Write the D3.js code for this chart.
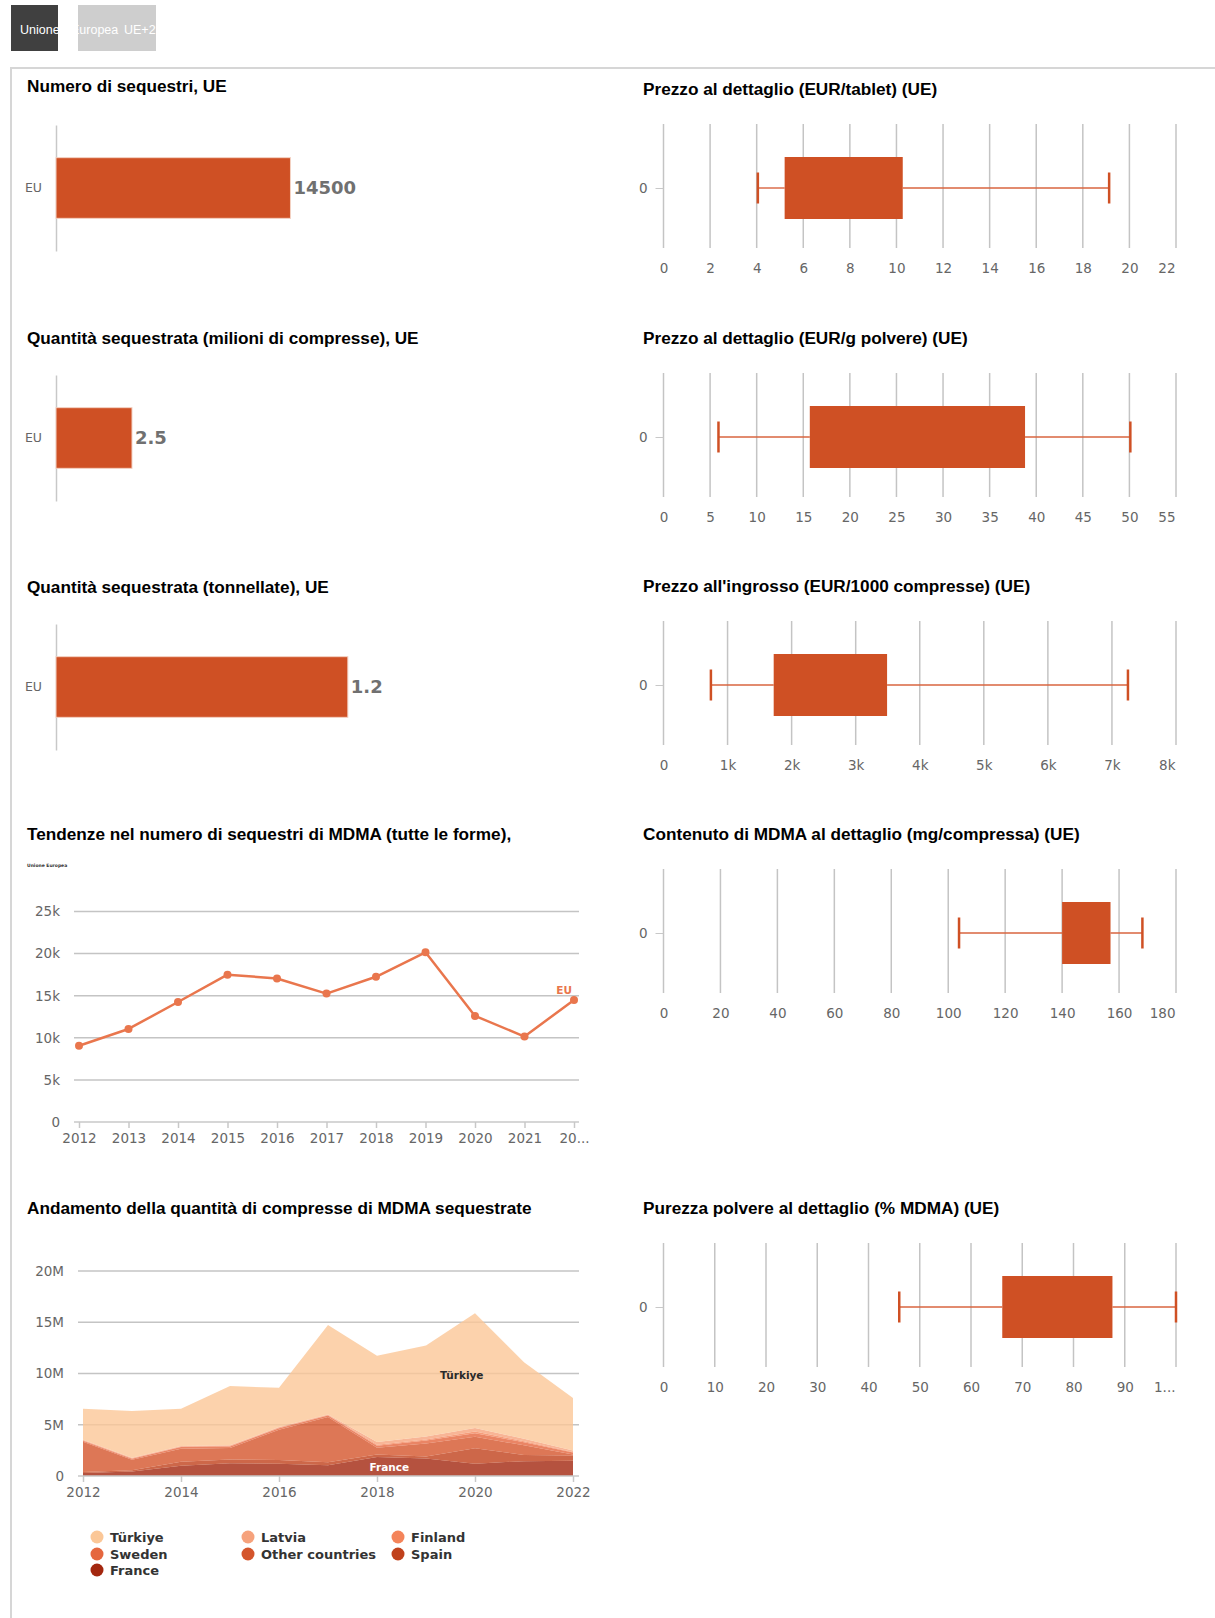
<!DOCTYPE html>
<html>
<head>
<meta charset="utf-8">
<script src="https://cdn.jsdelivr.net/npm/d3@7"></script>
<style>
  body { margin: 0; background: #fff; }
  svg text { font-family: "DejaVu Sans", Verdana, sans-serif; }
  svg text.title { font-family: "Liberation Sans", Arial, sans-serif; font-weight: bold; font-size: 17.2px; fill: #000; }
  svg text.btn { font-family: "Liberation Sans", Arial, sans-serif; font-size: 12.5px; fill: #fff; }
</style>
</head>
<body>
<svg id="page" width="1215" height="1618"></svg>
<script>
// ---------- data ----------
const seizureLabels = ["EU"];
const seizureCount = [14500];
const seizedTabletsMillions = [2.5];
const seizedTonnes = [1.2];

// box plots: [low whisker, first quartile, third quartile, high whisker]
const boxCategories = ["0"];
const retailTabletPrice = [4.05, 5.2, 10.27, 19.13];
const retailPowderPrice = [5.9, 15.7, 38.8, 50.1];
const wholesalePrice = [740, 1720, 3490, 7250];
const retailTabletContent = [103.8, 140, 157, 168.2];
const retailPowderPurity = [46, 66.1, 87.6, 100];

const tabletPriceTicks = [0, 2, 4, 6, 8, 10, 12, 14, 16, 18, 20, 22];
const powderPriceTicks = [0, 5, 10, 15, 20, 25, 30, 35, 40, 45, 50, 55];
const wholesaleTicks = [0, 1000, 2000, 3000, 4000, 5000, 6000, 7000, 8000];
const wholesaleTickLabels = ["0", "1k", "2k", "3k", "4k", "5k", "6k", "7k", "8k"];
const contentTicks = [0, 20, 40, 60, 80, 100, 120, 140, 160, 180];
const purityTicks = [0, 10, 20, 30, 40, 50, 60, 70, 80, 90, 100];
const purityTickLabels = ["0", "10", "20", "30", "40", "50", "60", "70", "80", "90", "1..."];

// trend in number of seizures
const trendYears = [2012, 2013, 2014, 2015, 2016, 2017, 2018, 2019, 2020, 2021, 2022];
const trendYearLabels = ["2012", "2013", "2014", "2015", "2016", "2017", "2018", "2019", "2020", "2021", "20..."];
const trendSeizures = [9050, 11050, 14250, 17500, 17050, 15250, 17250, 20150, 12600, 10150, 14500];
const trendTicks = [0, 5000, 10000, 15000, 20000, 25000];
const trendTickLabels = ["0", "5k", "10k", "15k", "20k", "25k"];

// tablets seized by country (millions)
const tabletYears = [2012, 2013, 2014, 2015, 2016, 2017, 2018, 2019, 2020, 2021, 2022];
const turkiye = [3.02, 4.54, 3.64, 5.78, 3.83, 8.72, 8.41, 8.87, 11.2, 7.46, 5.1];
const latvia = [0.05, 0.05, 0.05, 0.05, 0.05, 0.05, 0.25, 0.3, 0.35, 0.25, 0.15];
const finland = [0.05, 0.05, 0.05, 0.05, 0.05, 0.05, 0.1, 0.1, 0.15, 0.1, 0.05];
const sweden = [0.1, 0.1, 0.15, 0.15, 0.15, 0.15, 0.2, 0.3, 0.35, 0.3, 0.2];
const otherCountries = [2.94, 1.04, 1.27, 1.14, 2.97, 4.4, 0.66, 1.26, 1.13, 0.94, 0.1];
const spain = [0.1, 0.1, 0.4, 0.35, 0.35, 0.3, 0.25, 0.2, 1.5, 0.6, 0.5];
const france = [0.3, 0.45, 1.0, 1.25, 1.2, 1.05, 1.85, 1.7, 1.2, 1.45, 1.5];
const tabletTicks = [0, 5, 10, 15, 20];
const tabletTickLabels = ["0", "5M", "10M", "15M", "20M"];
const tabletLabelYears = [2012, 2014, 2016, 2018, 2020, 2022];
const legendOrder = ["Türkiye", "Latvia", "Finland", "Sweden", "Other countries", "Spain", "France"];

// ---------- styling ----------
const ORANGE = "#cf5024";
const LINE = "#e9764d";
const GRID = "#c4c4c4";
const LABEL = "#666";
const countryColors = {
  "Türkiye": "#fbc797",
  "Latvia": "#f6a27c",
  "Finland": "#f4845a",
  "Sweden": "#e5673f",
  "Other countries": "#d4552c",
  "Spain": "#c0411c",
  "France": "#a3270f"
};

const page = d3.select("#page");

// ---------- frame & selector buttons ----------
page.append("rect").attr("x", 11).attr("y", 5).attr("width", 47).attr("height", 46).attr("fill", "#404040");
page.append("rect").attr("x", 78).attr("y", 5).attr("width", 78).attr("height", 46).attr("fill", "#cecece");
const btnText = page.append("text").attr("class", "btn").attr("y", 33.5);
btnText.append("tspan").attr("x", 20).text("Unione");
btnText.append("tspan").attr("x", 71).text("Europea");
page.append("text").attr("class", "btn").attr("x", 124).attr("y", 33.5).text("UE+2");

page.append("line").attr("x1", 11).attr("x2", 1215).attr("y1", 68).attr("y2", 68)
  .attr("stroke", "#d6d6d6").attr("stroke-width", 2);
page.append("line").attr("x1", 11).attr("x2", 11).attr("y1", 67).attr("y2", 1618)
  .attr("stroke", "#d6d6d6").attr("stroke-width", 2);

function title(x, y, text) {
  page.append("text").attr("class", "title").attr("x", x).attr("y", y + 6).text(text);
}

// ---------- single-bar panels ----------
function drawBar(T, values, max) {
  const g = page.append("g");
  const x = d3.scaleLinear().domain([0, max]).range([56, 360]);
  const y = d3.scaleBand().domain(seizureLabels).range([T + 37, T + 163]).padding(0.35);

  g.append("g").attr("transform", "translate(56,0)")
    .call(d3.axisLeft(y).tickSize(0).tickSizeOuter(0).tickPadding(14))
    .attr("font-size", 12.5)
    .call(a => {
      a.select(".domain").attr("stroke", "#c8c8c8").attr("stroke-width", 1.5);
      a.selectAll("text").attr("fill", LABEL);
    });

  g.selectAll("rect.bar").data(values).join("rect")
    .attr("class", "bar")
    .attr("x", x(0))
    .attr("y", (d, i) => y(seizureLabels[i]))
    .attr("width", d => x(d) - x(0))
    .attr("height", y.bandwidth())
    .attr("fill", ORANGE)
    .attr("stroke", "#f3d2c4").attr("stroke-width", 1);

  g.selectAll("text.val").data(values).join("text")
    .attr("class", "val")
    .attr("x", d => x(d) + 3)
    .attr("y", (d, i) => y(seizureLabels[i]) + y.bandwidth() / 2)
    .attr("dy", "0.36em")
    .attr("font-size", 18).attr("font-weight", "bold")
    .attr("fill", "#707070")
    .attr("stroke", "#fff").attr("stroke-width", 2).attr("paint-order", "stroke")
    .text(d => d);
}

// ---------- box plot panels ----------
function drawBox(T, stats, ticks, labels) {
  const g = page.append("g");
  const x = d3.scaleLinear().domain([0, ticks[ticks.length - 1]]).range([663.5, 1176]);
  const y = d3.scalePoint().domain(boxCategories).range([T + 35, T + 163]).padding(0.5);

  g.append("g").selectAll("line").data(ticks).join("line")
    .attr("x1", d => x(d)).attr("x2", d => x(d))
    .attr("y1", T + 35).attr("y2", T + 159)
    .attr("stroke", GRID).attr("stroke-width", 1.5);

  g.append("g").attr("transform", `translate(0,${T + 159})`)
    .call(d3.axisBottom(x).tickValues(ticks).tickFormat((d, i) => labels ? labels[i] : d).tickSize(0).tickPadding(15))
    .attr("font-size", 13.5)
    .call(a => {
      a.select(".domain").remove();
      a.selectAll("text").attr("fill", LABEL);
      a.selectAll(".tick:last-of-type text").attr("text-anchor", "end").attr("x", -1);
    });

  g.append("g").attr("transform", "translate(663.5,0)")
    .call(d3.axisLeft(y).tickSize(8).tickPadding(8))
    .attr("font-size", 13.5)
    .call(a => {
      a.select(".domain").remove();
      a.selectAll("line").attr("stroke", "#c8c8c8");
      a.selectAll("text").attr("fill", LABEL);
    });

  const cy = y(boxCategories[0]);
  const [lo, q1, q3, hi] = stats;
  g.append("line").attr("x1", x(lo)).attr("x2", x(q1)).attr("y1", cy).attr("y2", cy)
    .attr("stroke", "#d8643f").attr("stroke-width", 1.4);
  g.append("line").attr("x1", x(q3)).attr("x2", x(hi)).attr("y1", cy).attr("y2", cy)
    .attr("stroke", "#d8643f").attr("stroke-width", 1.4);
  g.selectAll("line.cap").data([lo, hi]).join("line")
    .attr("class", "cap")
    .attr("x1", d => x(d)).attr("x2", d => x(d))
    .attr("y1", cy - 15.5).attr("y2", cy + 15.5)
    .attr("stroke", ORANGE).attr("stroke-width", 2.5);
  g.append("rect")
    .attr("x", x(q1)).attr("y", cy - 31)
    .attr("width", x(q3) - x(q1)).attr("height", 62)
    .attr("fill", ORANGE);
}

// ---------- line chart: trend in seizures ----------
function drawTrend(T) {
  const g = page.append("g");
  page.append("text").attr("x", 27).attr("y", T + 33).attr("font-size", 4.5)
    .attr("font-weight", "bold").attr("fill", "#333").text("Unione Europea");

  const x = d3.scalePoint().domain(trendYears).range([79, 574]);
  const y = d3.scaleLinear().domain([0, 25000]).range([1122, 911.5]);

  g.append("g").selectAll("line").data(trendTicks.slice(1)).join("line")
    .attr("x1", 74).attr("x2", 579)
    .attr("y1", d => y(d)).attr("y2", d => y(d))
    .attr("stroke", GRID).attr("stroke-width", 1.5);
  g.append("line").attr("x1", 74).attr("x2", 579).attr("y1", y(0)).attr("y2", y(0))
    .attr("stroke", "#c8c8c8").attr("stroke-width", 1.5);

  g.append("g").attr("transform", "translate(60,0)")
    .call(d3.axisLeft(y).tickValues(trendTicks).tickFormat((d, i) => trendTickLabels[i]).tickSize(0).tickPadding(0))
    .attr("font-size", 13.5)
    .call(a => { a.select(".domain").remove(); a.selectAll("text").attr("fill", LABEL); });

  g.append("g").attr("transform", `translate(0,${y(0)})`)
    .call(d3.axisBottom(x).tickFormat((d, i) => trendYearLabels[i]).tickSize(6).tickPadding(5))
    .attr("font-size", 13.5)
    .call(a => {
      a.select(".domain").remove();
      a.selectAll("line").attr("stroke", "#c8c8c8").attr("stroke-width", 1.5);
      a.selectAll("text").attr("fill", LABEL);
    });

  const line = d3.line().x((d, i) => x(trendYears[i])).y(d => y(d));
  g.append("path").datum(trendSeizures).attr("d", line)
    .attr("fill", "none").attr("stroke", LINE).attr("stroke-width", 2.5).attr("stroke-linejoin", "round");
  g.selectAll("circle").data(trendSeizures).join("circle")
    .attr("cx", (d, i) => x(trendYears[i])).attr("cy", d => y(d)).attr("r", 4)
    .attr("fill", LINE);

  const last = trendSeizures.length - 1;
  g.append("text").attr("x", x(trendYears[last]) - 2).attr("y", y(trendSeizures[last]) - 6)
    .attr("text-anchor", "end").attr("font-size", 10.5).attr("font-weight", "bold")
    .attr("fill", LINE).text("EU");
}

// ---------- stacked area chart: tablets seized ----------
function drawTablets() {
  const g = page.append("g");
  const x = d3.scaleLinear().domain([2012, 2022]).range([83, 573]);
  const y = d3.scaleLinear().domain([0, 20]).range([1476, 1271]);

  g.append("g").selectAll("line").data(tabletTicks.slice(1)).join("line")
    .attr("x1", 78).attr("x2", 579)
    .attr("y1", d => y(d)).attr("y2", d => y(d))
    .attr("stroke", GRID).attr("stroke-width", 1.5);

  const series = {
    "Türkiye": turkiye, "Latvia": latvia, "Finland": finland, "Sweden": sweden,
    "Other countries": otherCountries, "Spain": spain, "France": france
  };
  const rows = tabletYears.map((yr, i) => {
    const r = { year: yr };
    legendOrder.forEach(k => { r[k] = series[k][i]; });
    return r;
  });
  const stackKeys = legendOrder.slice().reverse(); // France at the bottom
  const stacked = d3.stack().keys(stackKeys)(rows);
  const area = d3.area().x(d => x(d.data.year)).y0(d => y(d[0])).y1(d => y(d[1]));

  g.append("g").selectAll("path").data(stacked).join("path")
    .attr("d", area)
    .attr("fill", d => countryColors[d.key])
    .attr("fill-opacity", 0.8);

  g.append("line").attr("x1", 78).attr("x2", 579).attr("y1", y(0)).attr("y2", y(0))
    .attr("stroke", "#c8c8c8").attr("stroke-width", 1.5);

  g.append("g").attr("transform", "translate(64,0)")
    .call(d3.axisLeft(y).tickValues(tabletTicks).tickFormat((d, i) => tabletTickLabels[i]).tickSize(0).tickPadding(0))
    .attr("font-size", 13.5)
    .call(a => { a.select(".domain").remove(); a.selectAll("text").attr("fill", LABEL); });

  g.append("g").attr("transform", `translate(0,${y(0)})`)
    .call(d3.axisBottom(x).tickValues(tabletLabelYears).tickFormat(d3.format("d")).tickSize(6).tickPadding(5))
    .attr("font-size", 13.5)
    .call(a => {
      a.select(".domain").remove();
      a.selectAll("line").attr("stroke", "#c8c8c8").attr("stroke-width", 1.5);
      a.selectAll("text").attr("fill", LABEL);
    });

  // series labels inside the areas
  g.append("text").attr("x", x(2019.73)).attr("y", y(9.8)).attr("dy", "0.35em")
    .attr("text-anchor", "middle").attr("font-size", 10.5).attr("font-weight", "bold")
    .attr("fill", "#2a2a2a").text("Türkiye");
  g.append("text").attr("x", x(2018.25)).attr("y", y(0.85)).attr("dy", "0.35em")
    .attr("text-anchor", "middle").attr("font-size", 10.5).attr("font-weight", "bold")
    .attr("fill", "#fff").text("France");

  // legend, three columns
  const colX = [97, 248, 398];
  const rowY = [1537, 1554, 1570];
  const items = g.append("g").selectAll("g").data(legendOrder).join("g")
    .attr("transform", (d, i) => `translate(${colX[i % 3]},${rowY[Math.floor(i / 3)]})`);
  items.append("circle").attr("r", 6.5).attr("fill", d => countryColors[d]);
  items.append("text").attr("x", 13).attr("dy", "0.36em")
    .attr("font-size", 13).attr("font-weight", "bold").attr("fill", "#333")
    .text(d => d);
}

// ---------- layout ----------
title(27, 86, "Numero di sequestri, UE");
drawBar(88, seizureCount, 18800);
title(27, 338, "Quantità sequestrata (milioni di compresse), UE");
drawBar(338, seizedTabletsMillions, 10);
title(27, 587, "Quantità sequestrata (tonnellate), UE");
drawBar(587, seizedTonnes, 1.25);
title(27, 834, "Tendenze nel numero di sequestri di MDMA (tutte le forme),");
drawTrend(834);
title(27, 1208, "Andamento della quantità di compresse di MDMA sequestrate");
drawTablets();

title(643, 89, "Prezzo al dettaglio (EUR/tablet) (UE)");
drawBox(89, retailTabletPrice, tabletPriceTicks, null);
title(643, 338, "Prezzo al dettaglio (EUR/g polvere) (UE)");
drawBox(338, retailPowderPrice, powderPriceTicks, null);
title(643, 586, "Prezzo all'ingrosso (EUR/1000 compresse) (UE)");
drawBox(586, wholesalePrice, wholesaleTicks, wholesaleTickLabels);
title(643, 834, "Contenuto di MDMA al dettaglio (mg/compressa) (UE)");
drawBox(834, retailTabletContent, contentTicks, null);
title(643, 1208, "Purezza polvere al dettaglio (% MDMA) (UE)");
drawBox(1208, retailPowderPurity, purityTicks, purityTickLabels);
</script>
</body>
</html>
